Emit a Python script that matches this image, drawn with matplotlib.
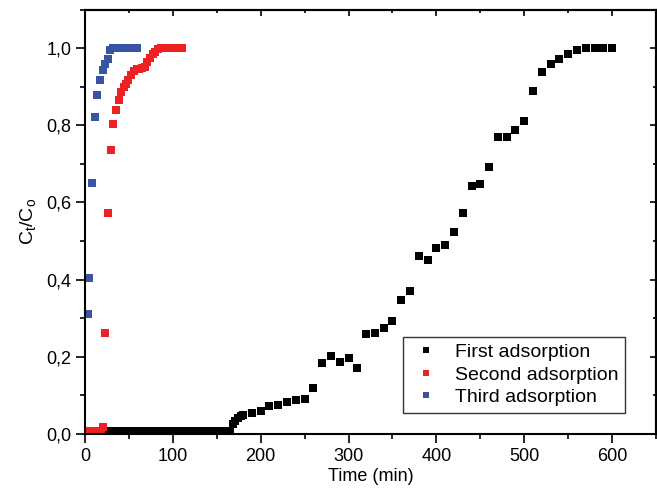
import matplotlib
matplotlib.use("Agg")
import matplotlib.pyplot as plt
from matplotlib.ticker import MultipleLocator, FuncFormatter

plt.rcParams['font.family'] = ['Liberation Sans', 'DejaVu Sans']
plt.rcParams['mathtext.fontset'] = 'custom'
plt.rcParams['mathtext.rm'] = 'Liberation Sans'

# first adsorption (black)
first_t = [25, 30, 35, 40, 45, 50, 55, 60, 65, 70, 75, 80, 85, 90, 95, 100, 105, 110,
           115, 120, 125, 130, 135, 140, 145, 150, 155, 160, 165,
           168, 171, 174, 177, 180, 190, 200, 210, 220, 230, 240, 250, 260, 270, 280,
           290, 300, 310, 320, 330, 340, 350, 360, 370, 380, 390, 400, 410, 420, 430,
           440, 450, 460, 470, 480, 490, 500, 510, 520, 530, 540, 550, 560, 570, 580,
           590, 600]
first_c = [0.007, 0.007, 0.007, 0.007, 0.007, 0.007, 0.007, 0.007, 0.007, 0.007, 0.007,
           0.007, 0.007, 0.007, 0.007, 0.007, 0.007, 0.007, 0.007, 0.007, 0.007, 0.007,
           0.007, 0.007, 0.007, 0.007, 0.007, 0.007, 0.007,
           0.025, 0.034, 0.041, 0.047, 0.050, 0.055, 0.060, 0.073, 0.074, 0.083, 0.088,
           0.092, 0.120, 0.185, 0.202, 0.187, 0.198, 0.172, 0.259, 0.263, 0.274, 0.293,
           0.347, 0.370, 0.462, 0.451, 0.483, 0.489, 0.524, 0.574, 0.643, 0.648, 0.693,
           0.770, 0.769, 0.789, 0.810, 0.888, 0.939, 0.958, 0.971, 0.985, 0.996, 1.0,
           1.0, 1.0, 1.0]

# second adsorption (red)
second_t = [0, 3, 6, 9, 12, 15, 18, 20, 23, 26.5, 29.5, 32, 35, 38.5, 41, 44, 46.5, 49.5,
            52.5, 56, 59, 62, 65, 68, 71, 74, 77, 80, 83, 86, 89, 92, 95, 98, 101, 104,
            107, 110]
second_c = [0.008, 0.008, 0.008, 0.008, 0.008, 0.008, 0.008, 0.018, 0.263, 0.572, 0.737,
            0.803, 0.840, 0.866, 0.885, 0.898, 0.907, 0.917, 0.930, 0.940, 0.946, 0.947,
            0.948, 0.950, 0.963, 0.975, 0.985, 0.991, 0.998, 1.0, 1.0, 1.0, 1.0, 1.0, 1.0,
            1.0, 1.0, 1.0]

# third adsorption (blue)
third_t = [3, 5, 8, 11, 14, 17, 20, 23, 26, 29, 32, 35, 38, 41, 44, 47, 50, 53, 56, 59]
third_c = [0.31, 0.405, 0.65, 0.822, 0.879, 0.918, 0.944, 0.959, 0.972, 0.996, 1.0, 1.0,
           1.0, 1.0, 1.0, 1.0, 1.0, 1.0, 1.0, 1.0]

fig = plt.figure(figsize=(6.57, 5.01), dpi=100)
ax = fig.add_axes([0.1294, 0.1337, 0.8691, 0.8473])

ms = 6
ax.plot(first_t, first_c, 's', color='black', ms=ms, mew=0, label='First adsorption')
ax.plot(second_t, second_c, 's', color='#ED2024', ms=ms, mew=0, label='Second adsorption')
ax.plot(third_t, third_c, 's', color='#3A54A4', ms=ms, mew=0, label='Third adsorption')

ax.set_xlim(0, 650)
ax.set_ylim(0, 1.1)
ax.xaxis.set_major_locator(MultipleLocator(100))
ax.xaxis.set_minor_locator(MultipleLocator(50))
ax.yaxis.set_major_locator(MultipleLocator(0.2))
ax.yaxis.set_minor_locator(MultipleLocator(0.1))
ax.yaxis.set_major_formatter(FuncFormatter(lambda v, p: f"{v:.1f}".replace('.', ',')))
ax.tick_params(which='major', direction='out', length=6.5, width=1.2, labelsize=13)
ax.tick_params(which='minor', direction='out', length=3.5, width=1.2)

# inward ticks on top and right, no labels
for side in ['top', 'right']:
    sec = ax.secondary_xaxis('top') if side == 'top' else ax.secondary_yaxis('right')
    axis = sec.xaxis if side == 'top' else sec.yaxis
    axis.set_major_locator(MultipleLocator(100 if side == 'top' else 0.2))
    axis.set_minor_locator(MultipleLocator(50 if side == 'top' else 0.1))
    sec.tick_params(which='major', direction='in', length=4, width=1.2,
                    labeltop=False, labelright=False)
    sec.tick_params(which='minor', direction='in', length=2.5, width=1.2)
    sec.spines[side].set_linewidth(1.5)

for s in ax.spines.values():
    s.set_linewidth(1.5)

ax.set_xlabel('Time (min)', fontsize=13, labelpad=2)
ax.set_ylabel(r'$\mathregular{C_t/C_o}$', fontsize=14, labelpad=6)

leg = ax.legend(loc='lower right', bbox_to_anchor=(0.946, 0.0495), borderaxespad=0,
                fontsize=14, frameon=True, fancybox=False, edgecolor='black',
                handletextpad=0.7, labelspacing=0.25, markerscale=0.8,
                handlelength=1.6, borderpad=0.35)
leg.get_frame().set_linewidth(1.0)

fig.savefig('out.png', dpi=100)
